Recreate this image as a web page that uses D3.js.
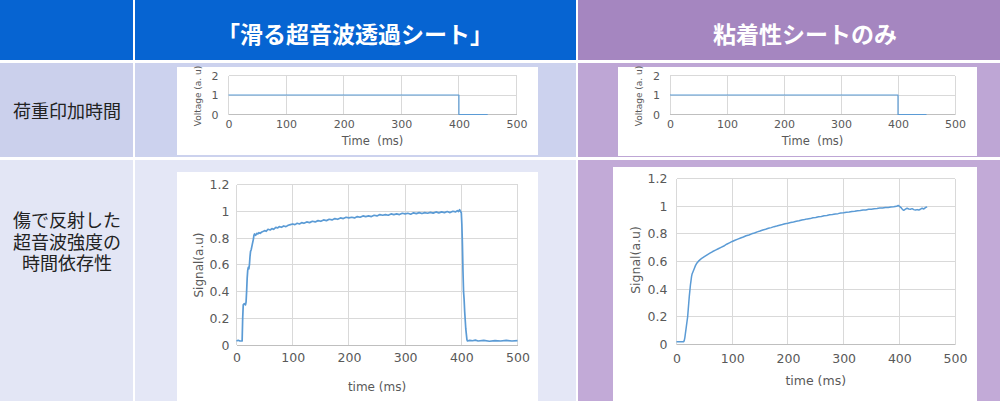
<!DOCTYPE html>
<html><head><meta charset="utf-8">
<script src="https://cdn.jsdelivr.net/npm/d3@7"></script>
<style>
html,body{margin:0;padding:0;background:#fff;}
svg{display:block;}
</style></head>
<body>
<svg id="c" width="1000" height="406"></svg>
<script>
// ---------- DATA ----------
const headerLabels = ["「滑る超音波透過シート」", "粘着性シートのみ"];
const rowLabels = [["荷重印加時間"], ["傷で反射した", "超音波強度の", "時間依存性"]];

const timeTicks = [0, 100, 200, 300, 400, 500];
const voltageTicks = [0, 1, 2];
const signalTicks = [0, 0.2, 0.4, 0.6, 0.8, 1, 1.2];
const signalTickLabels = ["0", "0.2", "0.4", "0.6", "0.8", "1", "1.2"];

const voltageTime = [0, 400, 400, 450];
const voltageValue = [1, 1, 0, 0];

const slideTime = [0,3,6,9,10,11,12,14,16,17,18,19,20,21,22,23,24,25,26,27,28,30,31,32,34,36,38,40,42,45,48,50,53,56,60,63,66,70,73,76,80,84,88,92,96,100,104,108,112,116,120,125,130,135,140,145,150,155,160,165,170,175,180,185,190,195,200,205,210,215,220,225,230,235,240,245,250,255,260,265,270,275,280,285,290,295,300,305,310,315,320,325,330,335,340,345,350,355,360,365,370,375,380,385,390,393,395,397,399,400,401,402,403,404,405,406,408,410,411,415,420,425,430,440,450,460,470,480,490,500];
const slideSignal = [0.03,0.035,0.03,0.032,0.03,0.2,0.3,0.31,0.3,0.32,0.4,0.5,0.56,0.58,0.57,0.6,0.66,0.7,0.71,0.73,0.75,0.79,0.82,0.83,0.82,0.835,0.83,0.84,0.835,0.845,0.85,0.855,0.85,0.865,0.86,0.87,0.865,0.88,0.875,0.885,0.88,0.89,0.885,0.895,0.9,0.905,0.9,0.91,0.905,0.915,0.91,0.92,0.915,0.925,0.92,0.93,0.925,0.935,0.93,0.94,0.935,0.945,0.94,0.95,0.945,0.955,0.95,0.955,0.95,0.96,0.955,0.965,0.96,0.965,0.96,0.97,0.965,0.975,0.97,0.975,0.97,0.98,0.975,0.98,0.975,0.985,0.98,0.985,0.978,0.988,0.982,0.99,0.983,0.99,0.985,0.992,0.986,0.995,0.988,0.995,0.99,0.998,0.99,1.0,0.995,1.005,0.998,1.012,0.995,0.99,0.9,0.75,0.55,0.4,0.34,0.25,0.12,0.04,0.03,0.035,0.032,0.036,0.03,0.034,0.028,0.033,0.03,0.034,0.03,0.032];

const stickyTime = [0,5,10,13,14,15,16,17,18,19,20,21,22,23,24,25,26,27,28,30,32,34,36,38,40,43,46,50,55,60,65,70,75,80,85,90,95,100,105,110,115,120,125,130,135,140,145,150,155,160,165,170,175,180,185,190,195,200,205,210,215,220,225,230,235,240,245,250,255,260,265,270,275,280,285,290,295,300,305,310,315,320,325,330,335,340,345,350,355,360,365,370,375,380,385,390,395,398,400,403,406,408,411,414,417,420,423,426,429,432,435,438,441,444,447,450];
const stickySignal = [0.02,0.02,0.02,0.02,0.03,0.05,0.08,0.11,0.14,0.17,0.2,0.25,0.3,0.35,0.39,0.43,0.46,0.49,0.51,0.53,0.55,0.57,0.585,0.595,0.605,0.615,0.625,0.635,0.648,0.66,0.672,0.682,0.692,0.702,0.712,0.725,0.735,0.745,0.754,0.762,0.77,0.777,0.786,0.792,0.8,0.806,0.814,0.82,0.828,0.833,0.84,0.845,0.852,0.856,0.862,0.867,0.873,0.877,0.882,0.886,0.891,0.894,0.9,0.903,0.908,0.91,0.916,0.918,0.924,0.926,0.931,0.933,0.938,0.94,0.944,0.946,0.95,0.952,0.956,0.958,0.962,0.963,0.967,0.968,0.972,0.973,0.977,0.978,0.982,0.983,0.986,0.987,0.99,0.991,0.994,0.995,0.999,1.005,1.0,0.99,0.975,0.97,0.978,0.985,0.98,0.978,0.982,0.975,0.972,0.975,0.972,0.978,0.985,0.98,0.99,0.995];

// ---------- LAYOUT ----------
const svg = d3.select("#c");
const JP = "'Noto Sans CJK JP', 'Noto Sans', sans-serif";
const CF = "'DejaVu Sans', Verdana, sans-serif";

const cells = [
  {x:0, y:0, w:133, h:60, f:"#0664d2"},
  {x:135, y:0, w:441, h:60, f:"#0664d2"},
  {x:578, y:0, w:422, h:60, f:"#a586c0"},
  {x:0, y:63, w:133, h:94, f:"#cbd0ec"},
  {x:135, y:63, w:441, h:94, f:"#ccd2ee"},
  {x:578, y:63, w:422, h:94, f:"#bea6d5"},
  {x:0, y:160, w:133, h:241, f:"#e3e6f5"},
  {x:135, y:160, w:441, h:241, f:"#e4e7f6"},
  {x:578, y:160, w:422, h:241, f:"#c2aad7"}
];
svg.selectAll("rect.cell").data(cells).join("rect").attr("class","cell")
  .attr("x",d=>d.x).attr("y",d=>d.y).attr("width",d=>d.w).attr("height",d=>d.h).attr("fill",d=>d.f);

// headers
const headerPos = [355, 805];
svg.selectAll("text.hdr").data(headerLabels).join("text").attr("class","hdr")
  .attr("x",(d,i)=>headerPos[i]).attr("y",33).attr("text-anchor","middle").attr("dominant-baseline","central")
  .attr("font-family",JP).attr("font-weight","bold").attr("font-size",23).attr("fill","#fff").text(d=>d);

// row labels
const rowCenters = [111, 242];
rowLabels.forEach((lines,r)=>{
  const lh = 21.5;
  lines.forEach((ln,i)=>{
    svg.append("text").attr("font-family",JP).attr("font-size",18).attr("fill","#222")
      .attr("text-anchor","middle")
      .attr("x",67).attr("y",rowCenters[r] + (i-(lines.length-1)/2)*lh + 6.5).text(ln);
  });
});

// ---------- CHARTS ----------
function chart(o){
  const g = svg.append("g");
  g.append("rect").attr("x",o.box[0]).attr("y",o.box[1]).attr("width",o.box[2]).attr("height",o.box[3]).attr("fill","#fff");
  const x = d3.scaleLinear().domain([0,500]).range([o.x0,o.x1]);
  const y = d3.scaleLinear().domain([0,o.ymax]).range([o.y0,o.y1]);
  g.selectAll("line.vg").data(o.xticks).join("line").attr("x1",d=>x(d)).attr("x2",d=>x(d))
    .attr("y1",o.y0).attr("y2",o.y1).attr("stroke","#d9d9d9").attr("stroke-width",1).attr("shape-rendering","crispEdges");
  g.selectAll("line.hg").data(o.yticks).join("line").attr("y1",d=>y(d)).attr("y2",d=>y(d))
    .attr("x1",o.x0).attr("x2",o.x1).attr("stroke",(d)=>d===0?"#bfbfbf":"#d9d9d9").attr("stroke-width",1).attr("shape-rendering","crispEdges");
  const xa = d3.axisBottom(x).tickValues(o.xticks).tickSize(0).tickPadding(o.xpad).tickFormat(d3.format("d"));
  const gx = g.append("g").attr("transform",`translate(0,${o.y0})`).call(xa);
  gx.select(".domain").remove();
  gx.selectAll("text").attr("font-family",CF).attr("font-size",o.fs).attr("fill","#595959");
  const ya = d3.axisLeft(y).tickValues(o.yticks).tickSize(0).tickPadding(o.ypad).tickFormat((d,i)=>o.ylabels[i]);
  const gy = g.append("g").attr("transform",`translate(${o.x0},0)`).call(ya);
  gy.select(".domain").remove();
  gy.selectAll("text").attr("font-family",CF).attr("font-size",o.fs).attr("fill","#595959");
  const pts = o.t.map((t,i)=>[t,o.v[i]]);
  g.append("path").datum(pts).attr("fill","none").attr("stroke","#5b9bd5").attr("stroke-width",o.sw)
    .attr("stroke-linejoin","round")
    .attr("d",d3.line().x(d=>x(d[0])).y(d=>y(d[1])));
  g.append("text").attr("x",(o.x0+o.x1)/2).attr("y",o.xtY).attr("text-anchor","middle").attr("dominant-baseline","central")
    .attr("font-family",CF).attr("font-size",o.tfs).attr("fill","#595959").attr("xml:space","preserve").text(o.xtitle);
  g.append("text").attr("transform",`translate(${o.ytX},${o.ytY}) rotate(-90)`).attr("text-anchor","middle")
    .attr("dominant-baseline","central").attr("font-family",CF).attr("font-size",o.ytfs).attr("fill","#595959").text(o.ytitle);
}

chart({box:[177,67,361,88], x0:228.5, x1:516.5, y0:114.5, y1:75.5, ymax:2,
  xticks:timeTicks, yticks:voltageTicks, ylabels:voltageTicks.map(String), xpad:6, ypad:10, fs:11,
  t:voltageTime, v:voltageValue, sw:1.2, xtitle:"Time  (ms)", xtY:141, tfs:11.5,
  ytitle:"Voltage (a. u)", ytX:198, ytY:96, ytfs:9});
chart({box:[618,67,359,89], x0:670, x1:955, y0:114.5, y1:75.5, ymax:2,
  xticks:timeTicks, yticks:voltageTicks, ylabels:voltageTicks.map(String), xpad:6, ypad:10, fs:11,
  t:voltageTime, v:voltageValue, sw:1.2, xtitle:"Time  (ms)", xtY:141, tfs:11.5,
  ytitle:"Voltage (a. u)", ytX:639, ytY:96, ytfs:9});
chart({box:[177,172,361,229], x0:236.5, x1:517.5, y0:345, y1:184.5, ymax:1.2,
  xticks:timeTicks, yticks:signalTicks, ylabels:signalTickLabels, xpad:8, ypad:7, fs:12.5,
  t:slideTime, v:slideSignal, sw:1.7, xtitle:"time (ms)", xtY:387, tfs:12,
  ytitle:"Signal(a.u)", ytX:199, ytY:265, ytfs:12});
chart({box:[613,167,364,234], x0:676.5, x1:955, y0:344.5, y1:178.5, ymax:1.2,
  xticks:timeTicks, yticks:signalTicks, ylabels:signalTickLabels, xpad:10, ypad:9, fs:12.5,
  t:stickyTime, v:stickySignal, sw:1.5, xtitle:"time (ms)", xtY:380.5, tfs:12.5,
  ytitle:"Signal(a.u)", ytX:635, ytY:260, ytfs:12.5});
</script>
</body></html>
